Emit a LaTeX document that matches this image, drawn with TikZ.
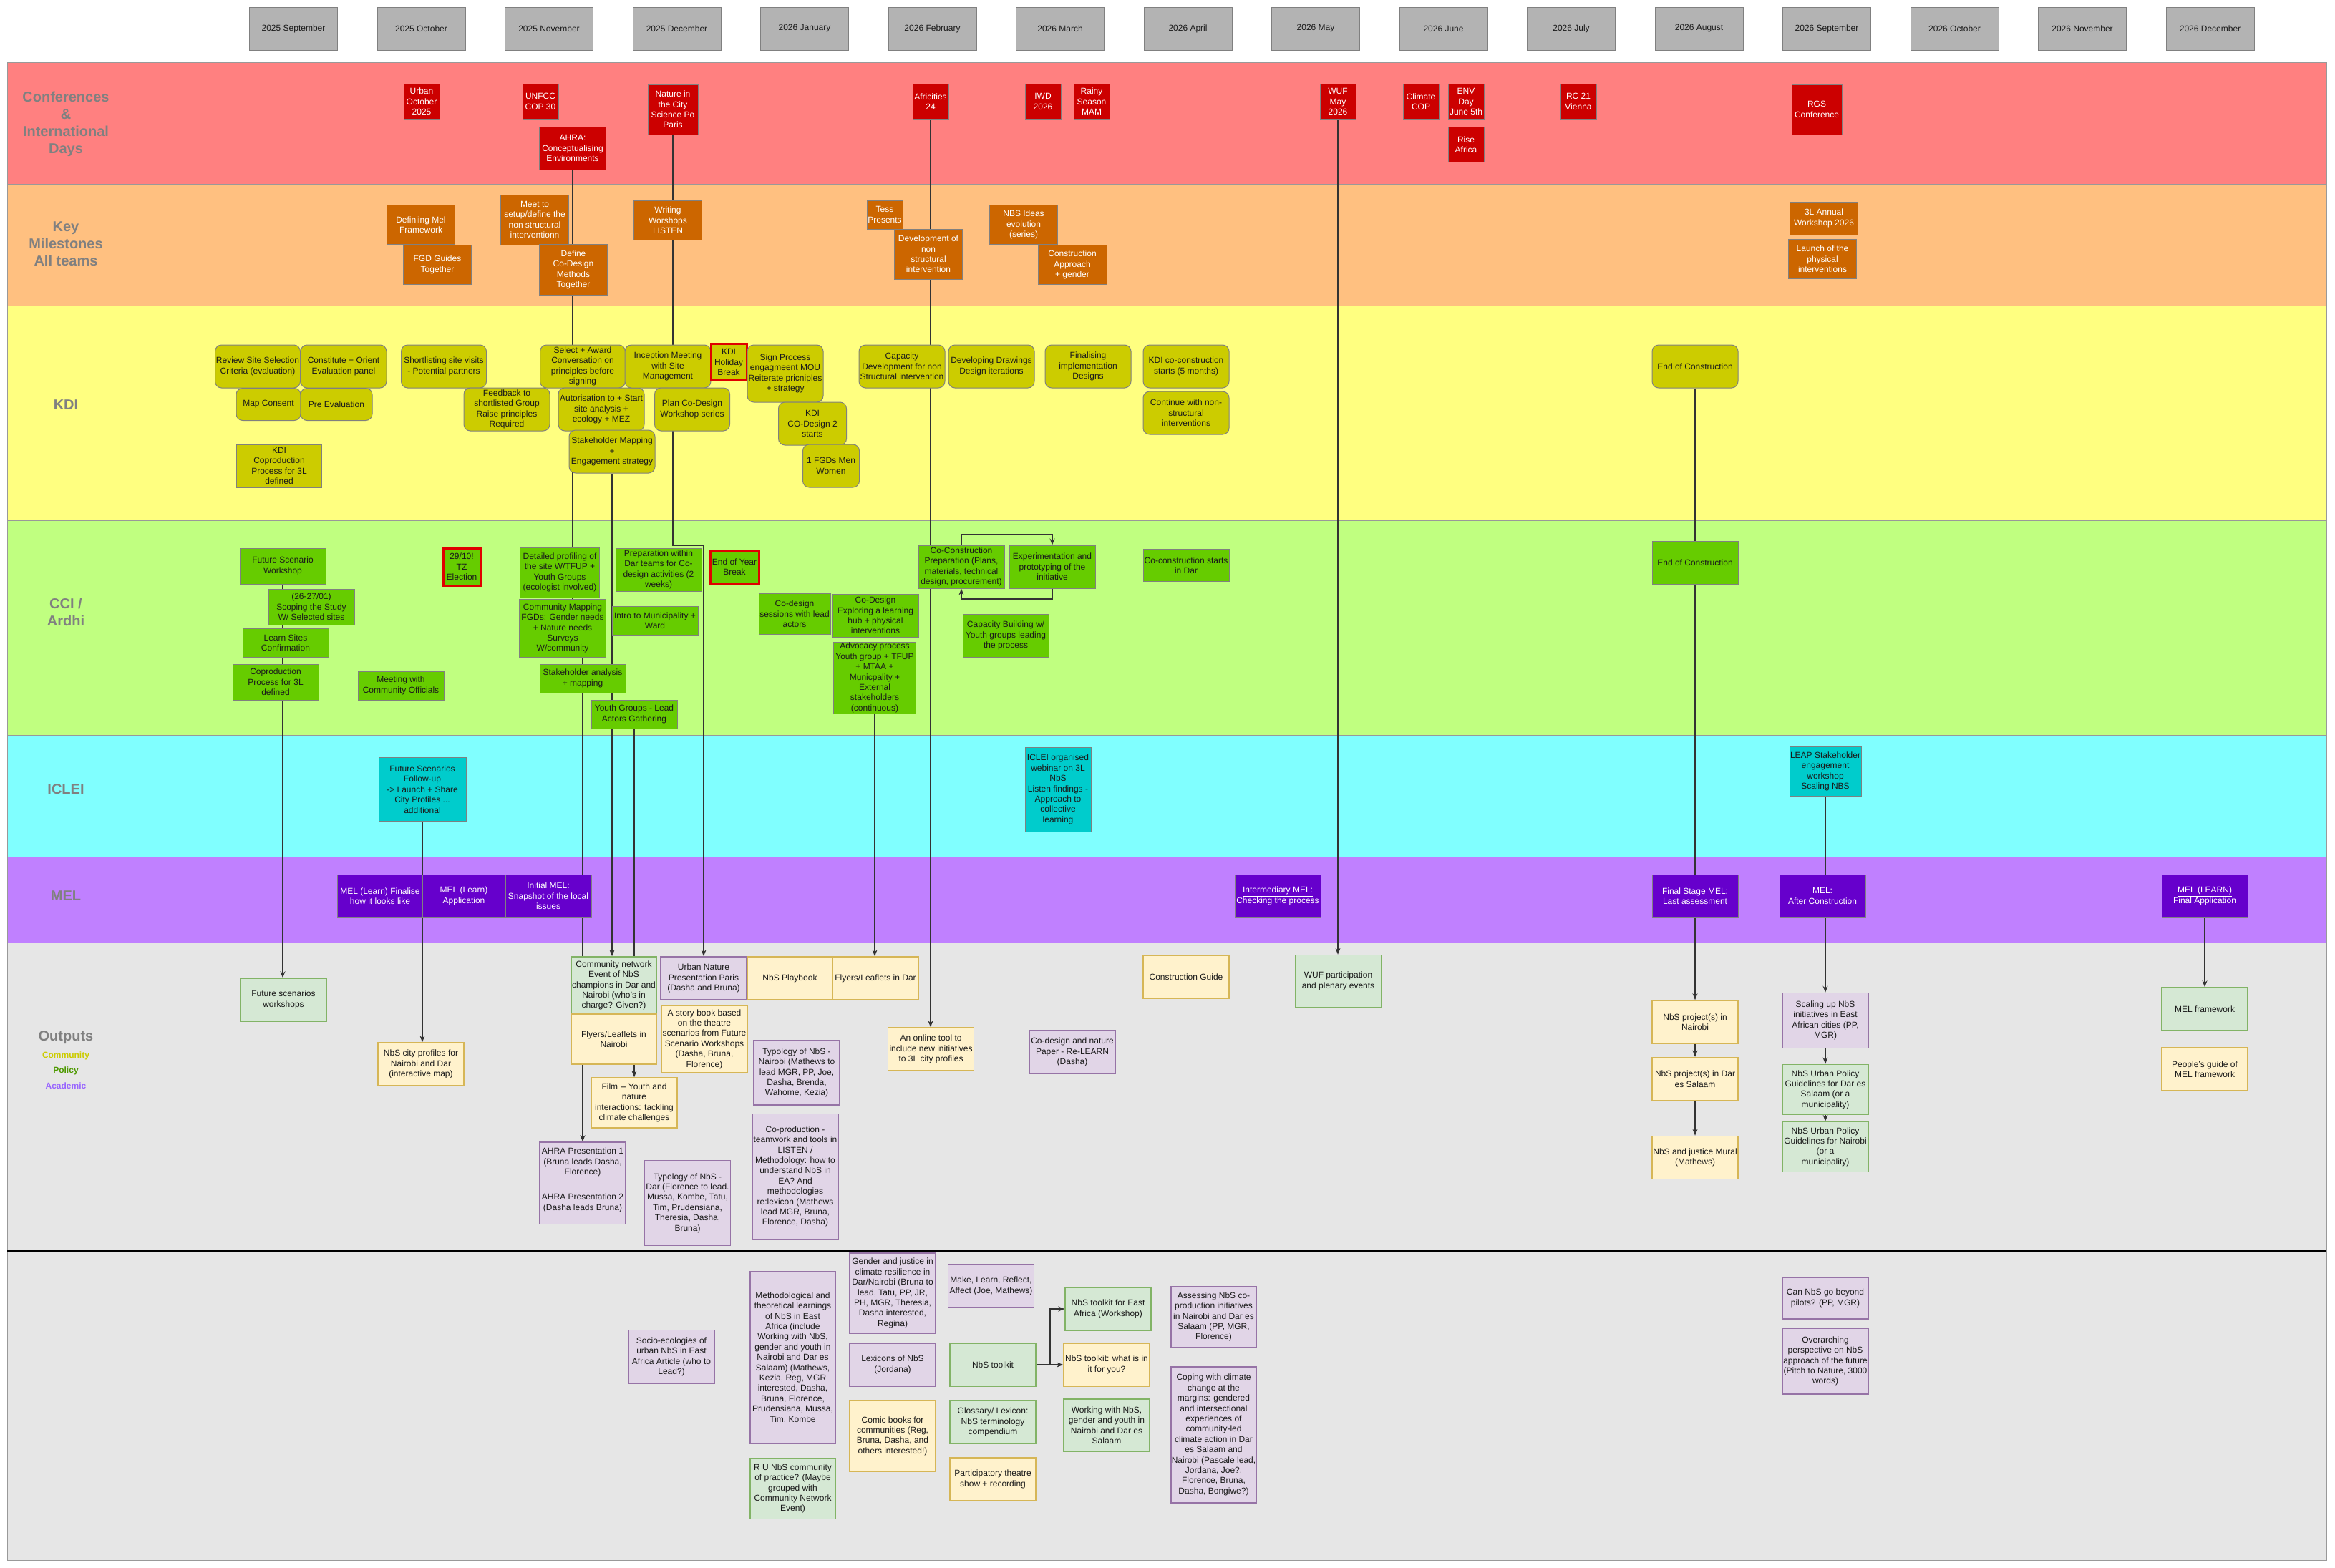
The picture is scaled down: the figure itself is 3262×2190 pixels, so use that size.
\documentclass[tikz,border=0pt]{standalone}
\usepackage{fontspec}
\setmainfont{Liberation Sans}
\usetikzlibrary{arrows.meta}
\pgfdeclarelayer{bg}
\pgfdeclarelayer{edges}
\pgfsetlayers{bg,edges,main}
\definecolor{confred}{HTML}{CC0000}
\definecolor{confbg}{HTML}{FF8080}
\definecolor{mileor}{HTML}{CC6600}
\definecolor{milebg}{HTML}{FFC080}
\definecolor{kdiy}{HTML}{CCCC00}
\definecolor{kdibg}{HTML}{FFFF80}
\definecolor{ccig}{HTML}{66CC00}
\definecolor{ccibg}{HTML}{C0FF80}
\definecolor{icleic}{HTML}{00CCCC}
\definecolor{icleibg}{HTML}{80FFFF}
\definecolor{melp}{HTML}{6600CC}
\definecolor{melbg}{HTML}{C080FF}
\definecolor{outbg}{HTML}{E6E6E6}
\definecolor{boxline}{HTML}{808080}
\definecolor{laneline}{HTML}{999999}
\definecolor{txt}{HTML}{1A1A1A}
\definecolor{redline}{HTML}{E00000}
\definecolor{oyf}{HTML}{FFF2CC}
\definecolor{oyd}{HTML}{D6B656}
\definecolor{ogf}{HTML}{D5E8D4}
\definecolor{ogd}{HTML}{82B366}
\definecolor{opf}{HTML}{E1D5E7}
\definecolor{opd}{HTML}{9673A6}
\definecolor{monthf}{HTML}{B3B3B3}
\definecolor{monthd}{HTML}{808080}
\definecolor{lblgray}{HTML}{808080}
\definecolor{edgec}{HTML}{333333}
\definecolor{lblcom}{HTML}{CCCC00}
\definecolor{lblpol}{HTML}{4D9900}
\definecolor{lblaca}{HTML}{9966FF}
\newcommand\boxfont{\fontsize{12}{14.4}\selectfont}
\begin{document}
\begin{tikzpicture}[x=1pt,y=-1pt,
  wh/.style 2 args={minimum width=#1pt, minimum height=#2pt},
  box/.style={draw=boxline, line width=1pt, align=center, inner sep=0pt, font=\boxfont, text=txt},
  conf/.style={box, fill=confred, text=white},
  mile/.style={box, fill=mileor, text=white},
  kdi/.style={box, fill=kdiy, rounded corners=9pt},
  kdisq/.style={box, fill=kdiy},
  cci/.style={box, fill=ccig},
  iclei/.style={box, fill=icleic},
  mel/.style={box, fill=melp, text=white},
  redframe/.style={draw=redline, line width=3pt},
  oy/.style={box, fill=oyf, draw=oyd, line width=1.5pt},
  og/.style={box, fill=ogf, draw=ogd, line width=1.5pt},
  op/.style={box, fill=opf, draw=opd, line width=1.5pt},
  month/.style={box, fill=monthf, draw=monthd, wh={123}{60}},
  lanelbl/.style={font=\fontsize{20}{24}\selectfont\bfseries, text=lblgray, align=center},
  sublbl/.style={font=\fontsize{12}{14}\selectfont\bfseries},
  lane/.style={draw=laneline, line width=1pt},
  conn/.style={draw=edgec, line width=1.2pt},
  arr/.style={conn, -{Stealth[length=9pt,width=7pt]}}
]
\useasboundingbox (0,0) rectangle (3262,2190);
\begin{pgfonlayer}{bg}
\fill[white] (0,0) rectangle (3262,2190);
\filldraw[lane, fill=confbg] (10,87) rectangle (3250,257);
\filldraw[lane, fill=milebg] (10,257) rectangle (3250,427);
\filldraw[lane, fill=kdibg] (10,427) rectangle (3250,727);
\filldraw[lane, fill=ccibg] (10,727) rectangle (3250,1027);
\filldraw[lane, fill=icleibg] (10,1027) rectangle (3250,1197);
\filldraw[lane, fill=melbg] (10,1197) rectangle (3250,1317);
\filldraw[lane, fill=outbg] (10,1317) rectangle (3250,2180);
\draw[black, line width=2pt] (10,1748) -- (3250,1748);
\end{pgfonlayer}

% months
\foreach \m [count=\i from 0] in {2025 September,2025 October,2025 November,2025 December,2026 January,2026 February,2026 March,2026 April,2026 May,2026 June,2026 July,2026 August,2026 September,2026 October,2026 November,2026 December}
  \node[month] (m\i) at ({410+178.5*\i},40) {\m};

% lane labels
\node[lanelbl] (lblconf) at (92,173) {Conferences\\\&\\International\\Days};
\node[lanelbl] (lblmile) at (92,341) {Key\\Milestones\\All teams};
\node[lanelbl] (lblkdi) at (92,566) {KDI};
\node[lanelbl] (lblcci) at (92,855) {CCI /\\Ardhi};
\node[lanelbl] (lbliclei) at (92,1103) {ICLEI};
\node[lanelbl] (lblmel) at (92,1252) {MEL};
\node[lanelbl] (lblout) at (92,1450) {Outputs};
\node[sublbl, text=lblcom] (lblcom) at (92,1475) {Community};
\node[sublbl, text=lblpol] (lblpol) at (92,1496) {Policy};
\node[sublbl, text=lblaca] (lblaca) at (92,1517) {Academic};

% conferences
\node[conf, wh={50}{49}] (urboct) at (589,142) {Urban\\October\\2025};
\node[conf, wh={50}{49}] (unfcc) at (755,142) {UNFCC\\COP 30};
\node[conf, wh={93}{60}] (ahra) at (800,207) {AHRA:\\Conceptualising\\Environments};
\node[conf, wh={70}{70}] (nature) at (940,153) {Nature in\\the City\\Science Po\\Paris};
\node[conf, wh={50}{49}] (africities) at (1300,142) {Africities\\24};
\node[conf, wh={50}{49}] (iwd) at (1457,142) {IWD\\2026};
\node[conf, wh={50}{49}] (rainy) at (1525,142) {Rainy\\Season\\MAM};
\node[conf, wh={50}{49}] (wuf) at (1869,142) {WUF\\May\\2026};
\node[conf, wh={50}{49}] (climcop) at (1985,142) {Climate\\COP};
\node[conf, wh={50}{49}] (envday) at (2048,142) {ENV\\Day\\June 5th};
\node[conf, wh={50}{49}] (rise) at (2048,202) {Rise\\Africa};
\node[conf, wh={50}{49}] (rc21) at (2205,142) {RC 21\\Vienna};
\node[conf, wh={70}{70}] (rgs) at (2538,153) {RGS\\Conference};

% milestones
\node[mile, wh={95}{55}] (melfw) at (588,314) {Definiing Mel\\Framework};
\node[mile, wh={95}{55}] (fgd) at (611,370) {FGD Guides\\Together};
\node[mile, wh={95}{70}] (meet) at (747,307) {Meet to\\setup/define the\\non structural\\interventionn};
\node[mile, wh={95}{71}] (define) at (801,377) {Define\\Co-Design\\Methods\\Together};
\node[mile, wh={95}{55}] (writing) at (933,308) {Writing\\Worshops\\LISTEN};
\node[mile, wh={50}{40}] (tess) at (1236,300) {Tess\\Presents};
\node[mile, wh={95}{70}] (devnon) at (1297,355) {Development of\\non\\structural\\intervention};
\node[mile, wh={95}{55}] (nbsideas) at (1430,314) {NBS Ideas\\evolution\\(series)};
\node[mile, wh={96}{55}] (constr) at (1498,370) {Construction\\Approach\\+ gender};
\node[mile, wh={95}{46}] (annual) at (2548,305) {3L Annual\\Workshop 2026};
\node[mile, wh={95}{55}] (launch) at (2546,362) {Launch of the\\physical\\interventions};

% KDI
\node[kdi, wh={119}{60}] (review) at (360,512) {Review Site Selection\\Criteria (evaluation)};
\node[kdi, wh={120}{60}] (constitute) at (480,512) {Constitute + Orient\\Evaluation panel};
\node[kdi, wh={90}{45}] (mapcons) at (375,565) {Map Consent};
\node[kdi, wh={100}{45}] (preeval) at (470,565) {Pre Evaluation};
\node[kdisq, wh={119}{60}] (kdicoprod) at (390,651) {KDI\\Coproduction\\Process for 3L\\defined};
\node[kdi, wh={119}{60}] (shortlist) at (620,512) {Shortlisting site visits\\- Potential partners};
\node[kdi, wh={120}{60}] (feedback) at (708,572) {Feedback to\\shortlisted Group\\Raise principles\\Required};
\node[kdi, wh={119}{60}] (select) at (814,512) {Select + Award\\Conversation on\\principles before\\signing};
\node[kdi, wh={120}{60}] (autor) at (840,572) {Autorisation to + Start\\site analysis +\\ecology + MEZ};
\node[kdi, wh={120}{60}] (stkmap) at (855,631) {Stakeholder Mapping\\+\\Engagement strategy};
\node[kdi, wh={120}{60}] (inception) at (933,512) {Inception Meeting\\with Site\\Management};
\node[kdisq, redframe, wh={50}{51}] (holiday) at (1018,506) {KDI\\Holiday\\Break};
\node[kdi, wh={105}{60}] (plancd) at (967,572) {Plan Co-Design\\Workshop series};
\node[kdi, wh={106}{80}] (sign) at (1097,522) {Sign Process\\engagmeent MOU\\Reiterate pricniples\\+ strategy};
\node[kdi, wh={95}{60}] (codesign2) at (1135,592) {KDI\\CO-Design 2\\starts};
\node[kdi, wh={79}{60}] (fgdmen) at (1161,651) {1 FGDs Men\\Women};
\node[kdi, wh={120}{60}] (capdev) at (1260,512) {Capacity\\Development for non\\Structural intervention};
\node[kdi, wh={120}{60}] (drawings) at (1385,512) {Developing Drawings\\Design iterations};
\node[kdi, wh={120}{60}] (finalising) at (1520,512) {Finalising\\implementation\\Designs};
\node[kdi, wh={120}{60}] (kdicoc) at (1657,512) {KDI co-construction\\starts (5 months)};
\node[kdi, wh={120}{60}] (continue) at (1657,577) {Continue with non-\\structural\\interventions};
\node[kdi, wh={120}{60}] (endkdi) at (2368,512) {End of Construction};

% CCI / Ardhi
\node[cci, wh={120}{50}] (fsw) at (395,791) {Future Scenario\\Workshop};
\node[cci, wh={120}{50}] (scoping) at (435,848) {(26-27/01)\\Scoping the Study\\W/ Selected sites};
\node[cci, wh={120}{40}] (learn) at (399,898) {Learn Sites\\Confirmation};
\node[cci, wh={120}{50}] (coprod) at (385,953) {Coproduction\\Process for 3L\\defined};
\node[cci, wh={120}{40}] (meeting) at (560,958) {Meeting with\\Community Officials};
\node[cci, redframe, wh={52}{52}] (tzelect) at (645,792) {29/10!\\TZ\\Election};
\node[cci, wh={111}{70}] (detailed) at (782,800) {Detailed profiling of\\the site W/TFUP +\\Youth Groups\\(ecologist involved)};
\node[cci, wh={121}{81}] (commap) at (786,878) {Community Mapping\\FGDs: Gender needs\\+ Nature needs\\Surveys\\W/community};
\node[cci, wh={120}{40}] (stkanal) at (814,948) {Stakeholder analysis\\+ mapping};
\node[cci, wh={120}{40}] (youth) at (886,998) {Youth Groups - Lead\\Actors Gathering};
\node[cci, wh={120}{60}] (prep) at (920,796) {Preparation within\\Dar teams for Co-\\design activities (2\\weeks)};
\node[cci, wh={120}{40}] (intro) at (915,867) {Intro to Municipality +\\Ward};
\node[cci, redframe, wh={68}{46}] (endyear) at (1026,792) {End of Year\\Break};
\node[cci, wh={100}{57}] (cdsess) at (1110,858) {Co-design\\sessions with lead\\actors};
\node[cci, wh={120}{60}] (cdhub) at (1223,860) {Co-Design\\Exploring a learning\\hub + physical\\interventions};
\node[cci, wh={115}{100}] (advocacy) at (1222,947) {Advocacy process\\Youth group + TFUP\\+ MTAA +\\Municpality +\\External\\stakeholders\\(continuous)};
\node[cci, wh={120}{60}] (coconprep) at (1343,792) {Co-Construction\\Preparation (Plans,\\materials, technical\\design, procurement)};
\node[cci, wh={120}{60}] (experim) at (1470,792) {Experimentation and\\prototyping of the\\initiative};
\node[cci, wh={120}{60}] (capbuild) at (1405,888) {Capacity Building w/\\Youth groups leading\\the process};
\node[cci, wh={120}{45}] (cocondar) at (1657,790) {Co-construction starts\\in Dar};
\node[cci, wh={120}{60}] (endcci) at (2368,786) {End of Construction};

% ICLEI
\node[iclei, wh={122}{89}] (fsfollow) at (590,1103) {Future Scenarios\\Follow-up\\-> Launch + Share\\City Profiles ...\\additional};
\node[iclei, wh={92}{118}] (webinar) at (1478,1103) {ICLEI organised\\webinar on 3L\\NbS\\Listen findings -\\Approach to\\collective\\learning};
\node[iclei, wh={100}{69}] (leap) at (2550,1078) {LEAP Stakeholder\\engagement\\workshop\\Scaling NBS};

% MEL
\node[mel, wh={120}{60}] (melfin) at (531,1252) {MEL (Learn) Finalise\\how it looks like};
\node[mel, wh={115}{60}] (melapp) at (648,1252) {MEL (Learn)\\Application};
\node[mel, wh={120}{60}] (melinit) at (766,1252) {\underline{Initial MEL:}\\Snapshot of the local\\issues};
\node[mel, wh={120}{60}] (melinter) at (1785,1252) {\underline{Intermediary MEL:}\\Checking the process};
\node[mel, wh={120}{60}] (melfinal) at (2368,1252) {\underline{Final Stage MEL:}\\Last assessment};
\node[mel, wh={120}{60}] (melafter) at (2546,1252) {\underline{MEL:}\\After Construction};
\node[mel, wh={120}{60}] (mellearn) at (3080,1252) {\underline{MEL (LEARN)}\\Final Application};

% outputs
\node[og, wh={120}{60}] (fsout) at (396,1397) {Future scenarios\\workshops};
\node[oy, wh={120}{60}] (cityprof) at (588,1487) {NbS city profiles for\\Nairobi and Dar\\(interactive map)};
\node[og, wh={119}{80}] (comnet) at (857.5,1377) {Community network\\Event of NbS\\champions in Dar and\\Nairobi (who's in\\charge? Given?)};
\node[oy, wh={119}{70}] (flyersnai) at (857.5,1452) {Flyers/Leaflets in\\Nairobi};
\node[oy, wh={120}{70}] (film) at (886,1541) {Film -{}- Youth and\\nature\\interactions: tackling\\climate challenges};
\node[op, wh={120}{56}] (ahrap1) at (814,1624) {AHRA Presentation 1\\(Bruna leads Dasha,\\Florence)};
\node[op, wh={120}{59}] (ahrap2) at (814,1681) {AHRA Presentation 2\\(Dasha leads Bruna)};
\node[op, wh={120}{60}] (urbpres) at (983,1367) {Urban Nature\\Presentation Paris\\(Dasha and Bruna)};
\node[oy, wh={120}{94}] (storybook) at (984,1452) {A story book based\\on the theatre\\scenarios from Future\\Scenario Workshops\\(Dasha, Bruna,\\Florence)};
\node[oy, wh={119}{60}] (playbook) at (1103.5,1367) {NbS Playbook};
\node[oy, wh={120}{60}] (flyersdar) at (1223,1367) {Flyers/Leaflets in Dar};
\node[op, wh={120}{90}] (typnai) at (1113,1499) {Typology of NbS -\\Nairobi (Mathews to\\lead MGR, PP, Joe,\\Dasha, Brenda,\\Wahome, Kezia)};
\node[op, wh={120}{175}] (coprodout) at (1111,1644) {Co-production -\\teamwork and tools in\\LISTEN /\\Methodology: how to\\understand NbS in\\EA? And\\methodologies\\re:lexicon (Mathews\\lead MGR, Bruna,\\Florence, Dasha)};
\node[op, wh={120}{119}] (typdar) at (960.5,1681) {Typology of NbS -\\Dar (Florence to lead.\\Mussa, Kombe, Tatu,\\Tim, Prudensiana,\\Theresia, Dasha,\\Bruna)};
\node[oy, wh={120}{60}] (onlinetool) at (1300.6,1466) {An online tool to\\include new initiatives\\to 3L city profiles};
\node[op, wh={120}{60}] (codespaper) at (1498,1470) {Co-design and nature\\Paper - Re-LEARN\\(Dasha)};
\node[oy, wh={120}{60}] (constguide) at (1657,1365) {Construction Guide};
\node[og, wh={120}{73}] (wufpart) at (1869.5,1371) {WUF participation\\and plenary events};
\node[oy, wh={120}{60}] (projnai) at (2368,1428) {NbS project(s) in\\Nairobi};
\node[oy, wh={120}{60}] (projdar) at (2368,1507.5) {NbS project(s) in Dar\\es Salaam};
\node[oy, wh={120}{60}] (mural) at (2368,1617.5) {NbS and justice Mural\\(Mathews)};
\node[op, wh={120}{77}] (scaling) at (2550,1426) {Scaling up NbS\\initiatives in East\\African cities (PP,\\MGR)};
\node[og, wh={120}{70}] (poldar) at (2550,1522.5) {NbS Urban Policy\\Guidelines for Dar es\\Salaam (or a\\municipality)};
\node[og, wh={120}{70}] (polnai) at (2550,1602.5) {NbS Urban Policy\\Guidelines for Nairobi\\(or a\\municipality)};
\node[og, wh={120}{60}] (melfwout) at (3080,1410) {MEL framework};
\node[oy, wh={120}{60}] (peopleguide) at (3080,1494) {People's guide of\\MEL framework};

% lower section
\node[op, wh={119}{241}] (methlearn) at (1107.5,1897) {Methodological and\\theoretical learnings\\of NbS in East\\Africa (include\\Working with NbS,\\gender and youth in\\Nairobi and Dar es\\Salaam) (Mathews,\\Kezia, Reg, MGR\\interested, Dasha,\\Bruna, Florence,\\Prudensiana, Mussa,\\Tim, Kombe};
\node[og, wh={119}{85}] (rucop) at (1107.5,2080) {R U NbS community\\of practice? (Maybe\\grouped with\\Community Network\\Event)};
\node[op, wh={120}{112}] (gender) at (1247,1807) {Gender and justice in\\climate resilience in\\Dar/Nairobi (Bruna to\\lead, Tatu, PP, JR,\\PH, MGR, Theresia,\\Dasha interested,\\Regina)};
\node[op, wh={120}{60}] (lexicons) at (1247,1907) {Lexicons of NbS\\(Jordana)};
\node[oy, wh={120}{99}] (comic) at (1247,2006.5) {Comic books for\\communities (Reg,\\Bruna, Dasha, and\\others interested!)};
\node[op, wh={120}{60}] (mlra) at (1384.5,1797) {Make, Learn, Reflect,\\Affect (Joe, Mathews)};
\node[og, wh={120}{60}] (toolkit) at (1387,1907) {NbS toolkit};
\node[og, wh={120}{60}] (glossary) at (1387,1987) {Glossary/ Lexicon:\\NbS terminology\\compendium};
\node[oy, wh={120}{60}] (theatre) at (1387,2067) {Participatory theatre\\show + recording};
\node[og, wh={120}{60}] (toolkitea) at (1548,1829) {NbS toolkit for East\\Africa (Workshop)};
\node[oy, wh={120}{60}] (toolkitwhat) at (1546,1907) {NbS toolkit: what is in\\it for you?};
\node[og, wh={120}{73}] (working) at (1546,1991.5) {Working with NbS,\\gender and youth in\\Nairobi and Dar es\\Salaam};
\node[op, wh={119}{85}] (assessing) at (1695.5,1840) {Assessing NbS co-\\production initiatives\\in Nairobi and Dar es\\Salaam (PP, MGR,\\Florence)};
\node[op, wh={119}{190}] (coping) at (1695.5,2005) {Coping with climate\\change at the\\margins: gendered\\and intersectional\\experiences of\\community-led\\climate action in Dar\\es Salaam and\\Nairobi (Pascale lead,\\Jordana, Joe?,\\Florence, Bruna,\\Dasha, Bongiwe?)};
\node[op, wh={120}{75}] (socio) at (938,1896) {Socio-ecologies of\\urban NbS in East\\Africa Article (who to\\Lead?)};
\node[op, wh={120}{58}] (canpilot) at (2550,1814) {Can NbS go beyond\\pilots? (PP, MGR)};
\node[op, wh={120}{92}] (overarch) at (2550,1902) {Overarching\\perspective on NbS\\approach of the future\\(Pitch to Nature, 3000\\words)};

% connectors
\begin{pgfonlayer}{edges}
\draw[arr] (ahra.south) -- (800,900) -- (814,900) -- (ahrap1.north);
\draw[arr] (nature.south) -- (940,762) -- (983,762) -- (urbpres.north);
\draw[arr] (stkmap.south) -- (stkmap.south |- comnet.north);
\draw[arr] (youth.south) -- (film.north);
\draw[arr] (fsw.south) -- (fsw.south |- fsout.north);
\draw[arr] (fsfollow.south) -- (fsfollow.south |- cityprof.north);
\draw[arr] (africities.south) -- (africities.south |- onlinetool.north);
\draw[arr] (advocacy.south) -- (advocacy.south |- flyersdar.north);
\draw[arr] (wuf.south) -- (wuf.south |- wufpart.north);
\draw[arr] (endkdi.south) -- (projnai.north);
\draw[arr] (leap.south) -- (leap.south |- scaling.north);
\draw[arr] (mellearn.south) -- (melfwout.north);
\draw[arr] (projnai.south) -- (projdar.north);
\draw[arr] (projdar.south) -- (mural.north);
\draw[arr] (scaling.south) -- (poldar.north);
\draw[arr] (poldar.south) -- (polnai.north);
\draw[arr] (coconprep.north) -- (1343,747) -- (1470,747) -- (experim.north);
\draw[arr] (experim.south) -- (1470,837) -- (1343,837) -- (coconprep.south);
\draw[arr] (toolkit.east) -- (toolkitwhat.west);
\draw[arr] (toolkit.east) -- (1467,1907) |- (toolkitea.west);
\end{pgfonlayer}
\end{tikzpicture}
\end{document}
